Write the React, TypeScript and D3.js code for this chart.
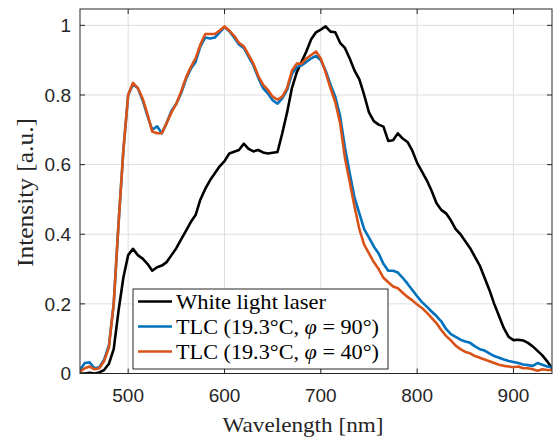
import React from 'react';
import * as d3 from 'd3';

// wavelength grid of the sampled spectra (nm)
const wavelengths: number[] = d3.range(450, 941, 5);

const whiteLaser: number[] = [
  0.0, 0.0, 0.002, 0.0, 0.003, 0.01, 0.028, 0.07, 0.18, 0.275,
  0.34, 0.358, 0.34, 0.33, 0.315, 0.295, 0.305, 0.31, 0.32, 0.34,
  0.36, 0.385, 0.41, 0.435, 0.455, 0.5, 0.53, 0.555, 0.575, 0.595,
  0.61, 0.632, 0.637, 0.642, 0.66, 0.645, 0.638, 0.642, 0.635, 0.632,
  0.634, 0.636, 0.69, 0.75, 0.82, 0.865, 0.895, 0.925, 0.96, 0.98,
  0.988, 0.997, 0.982, 0.98, 0.95, 0.935, 0.905, 0.87, 0.845, 0.8,
  0.75, 0.725, 0.715, 0.709, 0.668, 0.67, 0.69, 0.675, 0.665, 0.64,
  0.605, 0.58, 0.555, 0.525, 0.49, 0.47, 0.46, 0.44, 0.415, 0.4,
  0.38, 0.36, 0.335, 0.31, 0.275, 0.24, 0.2, 0.165, 0.13, 0.105,
  0.096, 0.097, 0.095, 0.088, 0.078, 0.065, 0.052, 0.035, 0.015,
];

const tlc90: number[] = [
  0.01, 0.03, 0.032, 0.015, 0.018, 0.04, 0.08, 0.2, 0.43, 0.64,
  0.8, 0.83, 0.82, 0.785, 0.74, 0.7, 0.71, 0.69, 0.72, 0.755,
  0.775, 0.805, 0.845, 0.875, 0.895, 0.94, 0.965, 0.962, 0.965, 0.98,
  0.995, 0.983, 0.965, 0.945, 0.935, 0.91, 0.885, 0.85, 0.82, 0.805,
  0.785, 0.775, 0.79, 0.815, 0.86, 0.88, 0.885, 0.895, 0.905, 0.912,
  0.9, 0.87, 0.83, 0.795, 0.74, 0.65, 0.575, 0.505, 0.46, 0.415,
  0.39, 0.365, 0.345, 0.315, 0.295, 0.295, 0.29, 0.275, 0.258, 0.24,
  0.222, 0.205, 0.192, 0.178, 0.165, 0.15, 0.128, 0.113, 0.105, 0.097,
  0.092, 0.088, 0.078, 0.07, 0.066, 0.058, 0.05, 0.045, 0.04, 0.036,
  0.033, 0.03, 0.026, 0.024, 0.022, 0.03, 0.025, 0.02, 0.018,
];

const tlc40: number[] = [
  0.005, 0.015, 0.02, 0.012, 0.015, 0.035, 0.075, 0.2, 0.43, 0.64,
  0.8, 0.835, 0.82, 0.79, 0.745, 0.695, 0.69, 0.69, 0.72, 0.75,
  0.775, 0.81, 0.85, 0.88, 0.905, 0.945, 0.975, 0.975, 0.975, 0.985,
  0.997, 0.985, 0.97, 0.95, 0.94, 0.915, 0.89, 0.855, 0.83, 0.815,
  0.795, 0.787, 0.795, 0.82, 0.87, 0.89, 0.89, 0.905, 0.915, 0.925,
  0.905, 0.865, 0.82, 0.78, 0.72, 0.62, 0.55, 0.48, 0.415, 0.37,
  0.345, 0.32, 0.3, 0.275, 0.262, 0.25, 0.245, 0.232, 0.22, 0.21,
  0.198, 0.188, 0.175, 0.16, 0.145, 0.125, 0.108, 0.095, 0.08, 0.07,
  0.062, 0.058, 0.05, 0.045, 0.04, 0.035, 0.03, 0.025, 0.022, 0.02,
  0.018, 0.02, 0.015, 0.015, 0.012, 0.008, 0.012, 0.01, 0.01,
];

const xTicks = [500, 600, 700, 800, 900];
const yTicks = [0, 0.2, 0.4, 0.6, 0.8, 1];

const series = [
  { name: 'white', values: whiteLaser, color: '#000000' },
  { name: 'tlc90', values: tlc90, color: '#0072BD' },
  { name: 'tlc40', values: tlc40, color: '#D95319' },
];

const width = 553;
const height = 438;
const margin = { top: 9, right: 1, bottom: 64.5, left: 80 };
const innerWidth = width - margin.left - margin.right;
const innerHeight = height - margin.top - margin.bottom;

const axisColor = '#262626';
const serif = '"Liberation Serif", "DejaVu Serif", serif';
const sans = '"Liberation Sans", Arial, sans-serif';

const App = () => {
  const xScale = d3.scaleLinear().domain([450, 940]).range([0, innerWidth]);
  const yScale = d3.scaleLinear().domain([0, 1.047]).range([innerHeight, 0]);

  const line = (vals: number[]) =>
    d3.line<number>()
      .x((_, i) => xScale(wavelengths[i]))
      .y(d => yScale(d))(vals) || '';

  // legend rows (text stretched a little to get LaTeX-like widths)
  const legendRows = [
    { color: '#000000', len: 150, label: <tspan>White light laser</tspan> },
    {
      color: '#0072BD',
      len: 203,
      label: (
        <>
          <tspan>TLC (19.3°C, </tspan>
          <tspan fontStyle="italic">φ</tspan>
          <tspan> = 90°)</tspan>
        </>
      ),
    },
    {
      color: '#D95319',
      len: 203,
      label: (
        <>
          <tspan>TLC (19.3°C, </tspan>
          <tspan fontStyle="italic">φ</tspan>
          <tspan> = 40°)</tspan>
        </>
      ),
    },
  ];

  return (
    <svg
      width={width}
      height={height}
      style={{ position: 'absolute', left: 0, top: 0, background: '#fff' }}
    >
      <defs>
        <clipPath id="plot-clip">
          <rect x={0} y={0} width={innerWidth} height={innerHeight} />
        </clipPath>
      </defs>
      <g transform={`translate(${margin.left},${margin.top})`}>
        {/* grid */}
        {xTicks.map(t => (
          <line key={`gx${t}`} x1={xScale(t)} x2={xScale(t)} y1={0} y2={innerHeight}
            stroke="#dfdfdf" strokeWidth={1} />
        ))}
        {yTicks.map(t => (
          <line key={`gy${t}`} x1={0} x2={innerWidth} y1={yScale(t)} y2={yScale(t)}
            stroke="#dfdfdf" strokeWidth={1} />
        ))}

        {/* data */}
        <g clipPath="url(#plot-clip)">
          {series.map(s => (
            <path key={s.name} d={line(s.values)} fill="none" stroke={s.color}
              strokeWidth={2.6} strokeLinejoin="round" />
          ))}
        </g>

        {/* box and ticks */}
        <rect x={0} y={0} width={innerWidth} height={innerHeight} fill="none"
          stroke={axisColor} strokeWidth={1} />
        {xTicks.map(t => (
          <g key={`tx${t}`}>
            <line x1={xScale(t)} x2={xScale(t)} y1={innerHeight} y2={innerHeight - 5} stroke={axisColor} />
            <line x1={xScale(t)} x2={xScale(t)} y1={0} y2={5} stroke={axisColor} />
            <text x={xScale(t)} y={innerHeight + 28} textAnchor="middle" fontFamily={sans}
              fontSize={19} fill={axisColor}>{t}</text>
          </g>
        ))}
        {yTicks.map(t => (
          <g key={`ty${t}`}>
            <line x1={0} x2={5} y1={yScale(t)} y2={yScale(t)} stroke={axisColor} />
            <line x1={innerWidth} x2={innerWidth - 5} y1={yScale(t)} y2={yScale(t)} stroke={axisColor} />
            <text x={-9} y={yScale(t)} dy="0.35em" textAnchor="end" fontFamily={sans}
              fontSize={19} fill={axisColor}>{d3.format('~g')(t)}</text>
          </g>
        ))}

        {/* axis labels */}
        <text x={222.5 - margin.left} y={innerHeight + 58} fontFamily={serif}
          fontSize={22} fill={axisColor} textLength={161} lengthAdjust="spacingAndGlyphs">
          Wavelength [nm]
        </text>
        <text transform={`translate(-47,${267 - margin.top}) rotate(-90)`}
          fontFamily={serif} fontSize={24} fill={axisColor}
          textLength={149} lengthAdjust="spacingAndGlyphs">Intensity [a.u.]</text>

        {/* legend */}
        <g transform={`translate(${xScale(450) + 53},${280})`}>
          <rect x={0} y={0} width={255} height={80} fill="#fff" stroke={axisColor} strokeWidth={1} />
          {legendRows.map((r, i) => (
            <g key={i} transform={`translate(0,${12.5 + i * 25})`}>
              <line x1={5} x2={39} y1={0} y2={0} stroke={r.color} strokeWidth={2.6} />
              <text x={43} y={0} dy="0.33em" fontFamily={serif} fontSize={21.5} fill="#000"
                textLength={r.len} lengthAdjust="spacingAndGlyphs">
                {r.label}
              </text>
            </g>
          ))}
        </g>
      </g>
    </svg>
  );
};

export default App;
